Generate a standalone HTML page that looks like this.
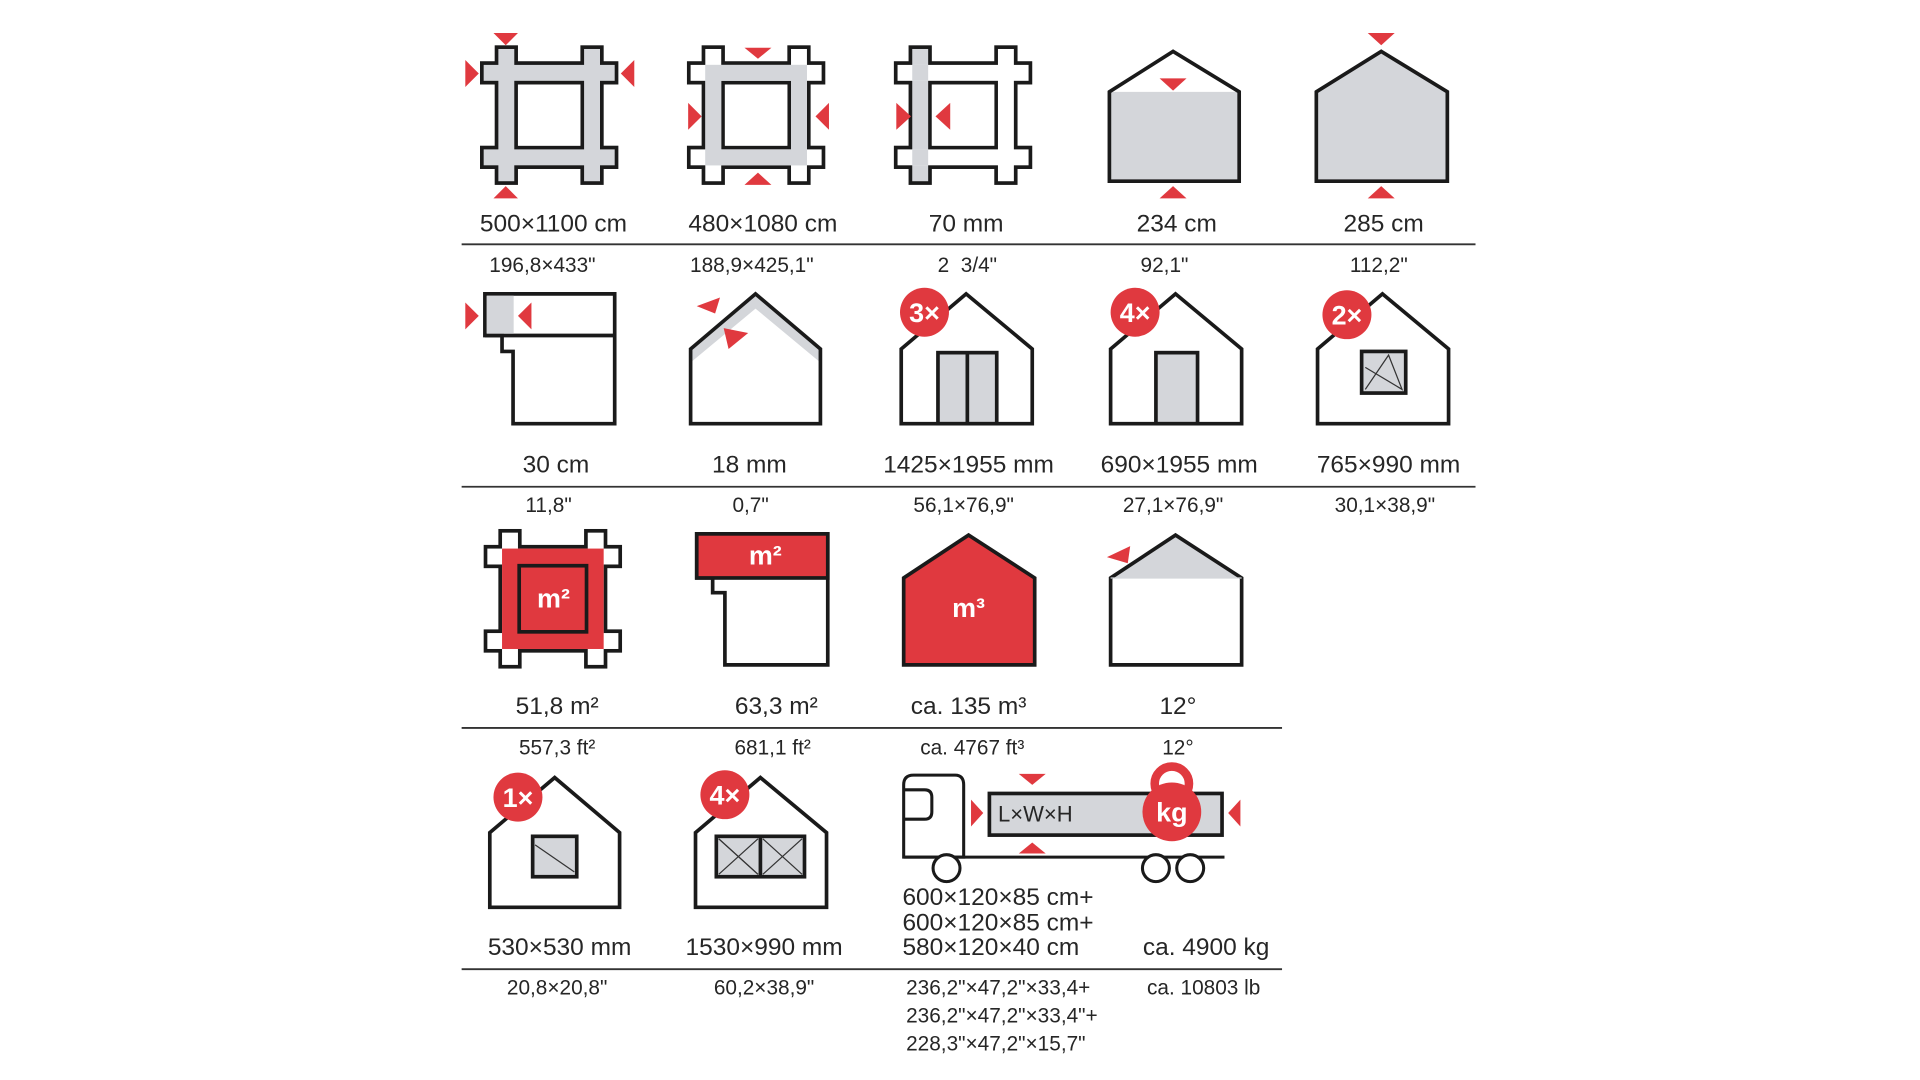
<!DOCTYPE html>
<html><head><meta charset="utf-8"><style>
html,body{margin:0;padding:0;background:#fff;}
svg{display:block}
text{font-family:"Liberation Sans",sans-serif;fill:#262626}
.l{font-size:20px;text-anchor:middle}
.s{font-size:17px;text-anchor:middle}
.w{fill:#fff;font-weight:bold;text-anchor:middle}
</style></head><body>
<svg width="1920" height="1080" viewBox="0 0 1568 882" xmlns="http://www.w3.org/2000/svg">
<defs>
<g id="frameblk">
<rect x="-3" y="-3" width="19" height="114" fill="#1a1a1a"/>
<rect x="67" y="-3" width="19" height="114" fill="#1a1a1a"/>
<rect x="-15" y="10" width="113" height="19" fill="#1a1a1a"/>
<rect x="-15" y="79" width="113" height="19" fill="#1a1a1a"/>
</g>
</defs>
<g stroke="none">
<!-- ROW 1 -->
<!-- frame 1 -->
<g transform="translate(407,40)">
<use href="#frameblk"/>
<rect x="0" y="0" width="13" height="108" fill="#d4d6da"/><rect x="70" y="0" width="13" height="108" fill="#d4d6da"/>
<rect x="-12" y="13" width="107" height="13" fill="#d4d6da"/><rect x="-12" y="82" width="107" height="13" fill="#d4d6da"/>
<rect x="16" y="29" width="51" height="50" fill="#fff"/>
</g>
<!-- frame 2 -->
<g transform="translate(576,40)">
<use href="#frameblk"/>
<rect x="0" y="0" width="13" height="108" fill="#fff"/><rect x="70" y="0" width="13" height="108" fill="#fff"/>
<rect x="-12" y="13" width="107" height="13" fill="#fff"/><rect x="-12" y="82" width="107" height="13" fill="#fff"/>
<rect x="0" y="13" width="13" height="82" fill="#d4d6da"/><rect x="70" y="13" width="13" height="82" fill="#d4d6da"/>
<rect x="0" y="13" width="83" height="13" fill="#d4d6da"/><rect x="0" y="82" width="83" height="13" fill="#d4d6da"/>
<rect x="16" y="29" width="51" height="50" fill="#fff"/>
</g>
<!-- frame 3 -->
<g transform="translate(745,40)">
<use href="#frameblk"/>
<rect x="0" y="0" width="13" height="108" fill="#d4d6da"/><rect x="70" y="0" width="13" height="108" fill="#fff"/>
<rect x="-12" y="13" width="107" height="13" fill="#fff"/><rect x="-12" y="82" width="107" height="13" fill="#fff"/>
<rect x="0" y="13" width="13" height="13" fill="#d4d6da"/><rect x="0" y="82" width="13" height="13" fill="#d4d6da"/>
<rect x="16" y="29" width="51" height="50" fill="#fff"/>
</g>
</g>
<g fill="#e0393f">
<polygon points="403,27 423,27 413,37"/><polygon points="403,162 423,162 413,152"/>
<polygon points="380,49 380,71 391,60"/><polygon points="518,49 518,71 507,60"/>
<polygon points="608,39 630,39 619,48"/><polygon points="608,151 630,151 619,141"/>
<polygon points="562,84 562,106 573,95"/><polygon points="677,84 677,106 666,95"/>
<polygon points="732,84 732,106 744,95"/><polygon points="776,84 776,106 764,95"/>
</g>
<!-- house 4 -->
<polygon points="906,75 958,42 1012,75 1012,148 906,148" fill="#d4d6da"/>
<polygon points="906,75 958,42 1012,75" fill="#fff"/>
<polygon points="906,75 958,42 1012,75 1012,148 906,148" fill="none" stroke="#1a1a1a" stroke-width="3"/>
<polygon points="947,64 969,64 958,74" fill="#e0393f"/>
<polygon points="947,162 969,162 958,152" fill="#e0393f"/>
<!-- house 5 -->
<polygon points="1075,75 1128,42 1182,75 1182,148 1075,148" fill="#d4d6da" stroke="#1a1a1a" stroke-width="3"/>
<polygon points="1117,27 1139,27 1128,37" fill="#e0393f"/>
<polygon points="1117,162 1139,162 1128,152" fill="#e0393f"/>

<g class="lbl">
<text class="l" x="452" y="189">500×1100 cm</text>
<text class="l" x="623" y="189">480×1080 cm</text>
<text class="l" x="789" y="189">70 mm</text>
<text class="l" x="961" y="189">234 cm</text>
<text class="l" x="1130" y="189">285 cm</text>
<text class="s" x="443" y="222">196,8×433"</text>
<text class="s" x="614" y="222">188,9×425,1"</text>
<text class="s" x="790" y="222" xml:space="preserve">2  3/4"</text>
<text class="s" x="951" y="222">92,1"</text>
<text class="s" x="1126" y="222">112,2"</text>
</g>
<line x1="377" y1="199.5" x2="1205" y2="199.5" stroke="#333" stroke-width="1.5"/>

<!-- ROW 2 -->
<polygon points="396,240 502,240 502,346 419,346 419,287 410,287 410,274 396,274" fill="#fff" stroke="#1a1a1a" stroke-width="3"/>
<line x1="396" y1="274" x2="502" y2="274" stroke="#1a1a1a" stroke-width="3"/>
<rect x="397.5" y="241.5" width="22" height="31" fill="#d4d6da"/>
<polygon points="380,247 380,269 391,258" fill="#e0393f"/>
<polygon points="434,247 434,269 423,258" fill="#e0393f"/>

<polygon points="564,285 617,240 670,285 670,346 564,346" fill="#fff"/>
<polygon points="564,285 617,240 670,285 670,296 617,252 564,296" fill="#d4d6da"/>
<polygon points="564,285 617,240 670,285 670,346 564,346" fill="none" stroke="#1a1a1a" stroke-width="3"/>
<polygon points="569,250 588,243 584,256" fill="#e0393f"/>
<polygon points="591,268 611,272 595,285" fill="#e0393f"/>

<polygon points="736,285 789,240 843,285 843,346 736,346" fill="#fff" stroke="#1a1a1a" stroke-width="3"/>
<rect x="766" y="288" width="48" height="58" fill="#d4d6da" stroke="#1a1a1a" stroke-width="3"/>
<line x1="790" y1="288" x2="790" y2="346" stroke="#1a1a1a" stroke-width="3"/>
<circle cx="755" cy="255" r="20" fill="#e0393f"/>
<text class="w" x="755" y="263" font-size="22">3×</text>

<polygon points="907,285 960,240 1014,285 1014,346 907,346" fill="#fff" stroke="#1a1a1a" stroke-width="3"/>
<rect x="944" y="288" width="34" height="58" fill="#d4d6da" stroke="#1a1a1a" stroke-width="3"/>
<circle cx="927" cy="255" r="20" fill="#e0393f"/>
<text class="w" x="927" y="263" font-size="22">4×</text>

<polygon points="1076,285 1129,240 1183,285 1183,346 1076,346" fill="#fff" stroke="#1a1a1a" stroke-width="3"/>
<rect x="1112" y="287" width="36" height="34" fill="#d4d6da" stroke="#1a1a1a" stroke-width="3"/>
<polyline points="1115,318 1134,290 1145,318 1115,300 1145,318" fill="none" stroke="#333" stroke-width="1"/>
<circle cx="1100" cy="257" r="20" fill="#e0393f"/>
<text class="w" x="1100" y="265" font-size="22">2×</text>

<text class="l" x="454" y="386">30 cm</text>
<text class="l" x="612" y="386">18 mm</text>
<text class="l" x="791" y="386">1425×1955 mm</text>
<text class="l" x="963" y="386">690×1955 mm</text>
<text class="l" x="1134" y="386">765×990 mm</text>
<text class="s" x="448" y="418">11,8"</text>
<text class="s" x="613" y="418">0,7"</text>
<text class="s" x="787" y="418">56,1×76,9"</text>
<text class="s" x="958" y="418">27,1×76,9"</text>
<text class="s" x="1131" y="418">30,1×38,9"</text>
<line x1="377" y1="397.5" x2="1205" y2="397.5" stroke="#333" stroke-width="1.5"/>

<!-- ROW 3 -->
<g transform="translate(410,435)">
<use href="#frameblk"/>
<rect x="0" y="0" width="13" height="108" fill="#fff"/><rect x="70" y="0" width="13" height="108" fill="#fff"/>
<rect x="-12" y="13" width="107" height="13" fill="#fff"/><rect x="-12" y="82" width="107" height="13" fill="#fff"/>
<rect x="0" y="13" width="83" height="82" fill="#e0393f"/>
<rect x="14" y="27" width="55" height="54" fill="#e0393f" stroke="#1a1a1a" stroke-width="3"/>
</g>
<text class="w" x="452" y="496" font-size="22">m²</text>

<polygon points="569,436 676,436 676,543 592,543 592,484 582,484 582,472 569,472" fill="#fff" stroke="#1a1a1a" stroke-width="3"/>
<rect x="569" y="436" width="107" height="36" fill="#e0393f" stroke="#1a1a1a" stroke-width="3"/>
<text class="w" x="625" y="461" font-size="22">m²</text>

<polygon points="738,472 791,437 845,472 845,543 738,543" fill="#e0393f" stroke="#1a1a1a" stroke-width="3"/>
<text class="w" x="791" y="504" font-size="22">m³</text>

<polygon points="907,472 960,437 1014,472" fill="#d4d6da"/>
<polygon points="907,472 960,437 1014,472 1014,543 907,543" fill="none" stroke="#1a1a1a" stroke-width="3"/>
<line x1="907" y1="472" x2="1014" y2="472" stroke="#d4d6da" stroke-width="1"/>
<polygon points="904,455 923,446 921,460" fill="#e0393f"/>

<text class="l" x="455" y="583">51,8 m²</text>
<text class="l" x="634" y="583">63,3 m²</text>
<text class="l" x="791" y="583">ca. 135 m³</text>
<text class="l" x="962" y="583">12°</text>
<text class="s" x="455" y="616">557,3 ft²</text>
<text class="s" x="631" y="616">681,1 ft²</text>
<text class="s" x="794" y="616">ca. 4767 ft³</text>
<text class="s" x="962" y="616">12°</text>
<line x1="377" y1="594.5" x2="1047" y2="594.5" stroke="#333" stroke-width="1.5"/>

<!-- ROW 4 -->
<polygon points="400,680 453,635 506,680 506,741 400,741" fill="#fff" stroke="#1a1a1a" stroke-width="3"/>
<rect x="435" y="683" width="36" height="33" fill="#d4d6da" stroke="#1a1a1a" stroke-width="3"/>
<polyline points="437,690 469,712" fill="none" stroke="#333" stroke-width="1"/>
<circle cx="423" cy="651" r="20" fill="#e0393f"/>
<text class="w" x="423" y="659" font-size="22">1×</text>

<polygon points="568,680 621,635 675,680 675,741 568,741" fill="#fff" stroke="#1a1a1a" stroke-width="3"/>
<rect x="585" y="683" width="72" height="33" fill="#d4d6da" stroke="#1a1a1a" stroke-width="3"/>
<line x1="621" y1="683" x2="621" y2="716" stroke="#1a1a1a" stroke-width="3"/>
<polyline points="587,685 619,714 M" fill="none" stroke="#333" stroke-width="1"/>
<line x1="587" y1="685" x2="619" y2="714" stroke="#333" stroke-width="1"/>
<line x1="619" y1="685" x2="587" y2="714" stroke="#333" stroke-width="1"/>
<line x1="623" y1="685" x2="655" y2="714" stroke="#333" stroke-width="1"/>
<line x1="655" y1="685" x2="623" y2="714" stroke="#333" stroke-width="1"/>
<circle cx="592" cy="649" r="20" fill="#e0393f"/>
<text class="w" x="592" y="657" font-size="22">4×</text>

<!-- truck -->
<path d="M738,700 L738,641 Q738,633 746,633 L780,633 Q787,633 787,641 L787,700 Z" fill="#fff" stroke="#1a1a1a" stroke-width="2.5"/>
<path d="M738,645 L755,645 Q761,645 761,651 L761,663 Q761,669 755,669 L738,669" fill="none" stroke="#1a1a1a" stroke-width="2.5"/>
<line x1="738" y1="700" x2="1000" y2="700" stroke="#1a1a1a" stroke-width="2.5"/>
<circle cx="773" cy="709" r="11" fill="#fff" stroke="#1a1a1a" stroke-width="2.5"/>
<circle cx="944" cy="709" r="11" fill="#fff" stroke="#1a1a1a" stroke-width="2.5"/>
<circle cx="972" cy="709" r="11" fill="#fff" stroke="#1a1a1a" stroke-width="2.5"/>
<rect x="808" y="648" width="190" height="34" fill="#d4d6da" stroke="#1a1a1a" stroke-width="3"/>
<text x="815" y="671" font-size="18" fill="#333">L×W×H</text>
<circle cx="957" cy="640" r="14" fill="none" stroke="#e0393f" stroke-width="7"/>
<circle cx="957" cy="663" r="24" fill="#e0393f"/>
<text class="w" x="957" y="671" font-size="22">kg</text>
<polygon points="832,632 854,632 843,641" fill="#e0393f"/>
<polygon points="832,697 854,697 843,688" fill="#e0393f"/>
<polygon points="793,653 793,675 803,664" fill="#e0393f"/>
<polygon points="1013,653 1013,675 1003,664" fill="#e0393f"/>

<text class="l" x="457" y="780">530×530 mm</text>
<text class="l" x="624" y="780">1530×990 mm</text>
<text x="737" y="739" font-size="20">600×120×85 cm+</text>
<text x="737" y="760" font-size="20">600×120×85 cm+</text>
<text x="737" y="780" font-size="20">580×120×40 cm</text>
<text class="l" x="985" y="780">ca. 4900 kg</text>
<line x1="377" y1="791.5" x2="1047" y2="791.5" stroke="#333" stroke-width="1.5"/>
<text class="s" x="455" y="812">20,8×20,8"</text>
<text class="s" x="624" y="812">60,2×38,9"</text>
<text x="740" y="812" font-size="17">236,2"×47,2"×33,4+</text>
<text x="740" y="835" font-size="17">236,2"×47,2"×33,4"+</text>
<text x="740" y="858" font-size="17">228,3"×47,2"×15,7"</text>
<text class="s" x="983" y="812">ca. 10803 lb</text>
</svg>
</body></html>
